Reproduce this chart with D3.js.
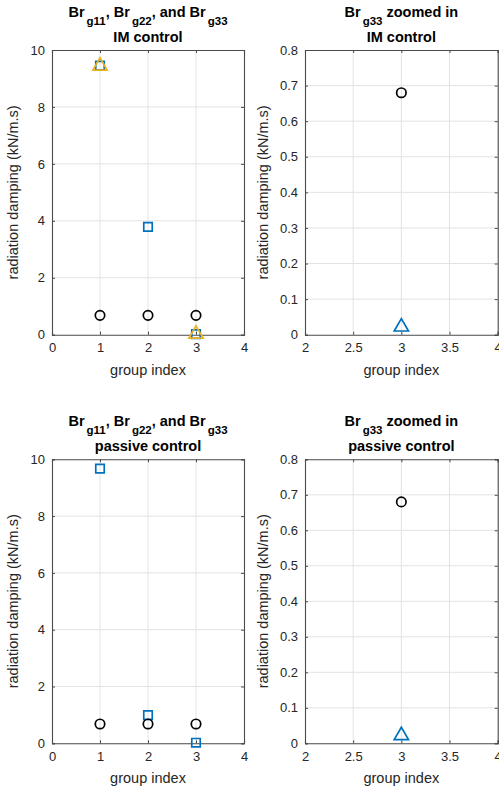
<!DOCTYPE html>
<html>
<head>
<meta charset="utf-8">
<script src="https://cdn.jsdelivr.net/npm/d3@7"></script>
<style>
  html, body { margin: 0; padding: 0; background: #fff; }
  svg { display: block; font-family: "Liberation Sans", Arial, Helvetica, sans-serif; }
</style>
</head>
<body>
<svg id="fig" width="499" height="792"></svg>
<script>
// --- data ---
const groupIdx = [1, 2, 3];

// IM control, all three groups
const imSquares = [9.45, 3.79, 0.02];      // blue squares
const imTriIdx = [1, 3];
const imTriangles = [9.44, 0.022];         // orange triangles
const imCircles = [0.68, 0.68, 0.68];      // black circles

// passive control, all three groups
const pasSquares = [9.67, 0.99, 0.02];
const pasCircles = [0.68, 0.68, 0.68];

// zoomed in on group 3
const zoomIdx = [3];
const imZoomCircle = [0.68];
const imZoomTriangle = [0.022];
const pasZoomCircle = [0.68];
const pasZoomTriangle = [0.022];

const ticksFull = [0, 2, 4, 6, 8, 10];
const ticksZoom = [0, 0.1, 0.2, 0.3, 0.4, 0.5, 0.6, 0.7, 0.8];
const xTicksFull = [0, 1, 2, 3, 4];
const xTicksZoom = [2, 2.5, 3, 3.5, 4];

const BLUE = "#0072BD";
const ORANGE = "#EDB120";
const BLACK = "#000000";
const TXT = "#262626";

const svg = d3.select("#fig");

// title line with TeX-like subscripts: parts = [[text, sub], ...]
function title(g, cx, y1, y2, parts, line2) {
  const SUB = 8;
  const t = g.append("text")
    .attr("x", cx).attr("y", y1)
    .attr("text-anchor", "middle")
    .attr("font-weight", "bold")
    .attr("font-size", 14.5)
    .attr("fill", "#000");
  let down = false;
  parts.forEach(([s, sub]) => {
    t.append("tspan").attr("dy", down ? -SUB : 0).text(s);
    down = false;
    if (sub) {
      t.append("tspan").attr("dy", SUB).attr("dx", 2).attr("font-size", 11.5).text(sub);
      down = true;
    }
  });
  g.append("text")
    .attr("x", cx).attr("y", y2)
    .attr("text-anchor", "middle")
    .attr("font-weight", "bold")
    .attr("font-size", 14.5)
    .attr("fill", "#000")
    .text(line2);
}

function drawPanel(cfg) {
  const { l, r, t, b } = cfg.box;
  const x = d3.scaleLinear().domain(cfg.xDomain).range([l, r]);
  const y = d3.scaleLinear().domain(cfg.yDomain).range([b, t]);
  const g = svg.append("g");

  // grid
  g.selectAll(".gx").data(cfg.xTicks.slice(1, -1)).join("line")
    .attr("x1", (d) => x(d)).attr("x2", (d) => x(d))
    .attr("y1", t).attr("y2", b)
    .attr("stroke", "#e3e3e3").attr("stroke-width", 1);
  g.selectAll(".gy").data(cfg.yTicks.slice(1, -1)).join("line")
    .attr("x1", l).attr("x2", r)
    .attr("y1", (d) => y(d)).attr("y2", (d) => y(d))
    .attr("stroke", "#e3e3e3").attr("stroke-width", 1);

  // axes, ticks pointing inward on all four sides
  const tl = -3;
  g.append("g").attr("transform", `translate(0,${b})`)
    .call(d3.axisBottom(x).tickValues(cfg.xTicks).tickSize(tl).tickPadding(8).tickFormat(d3.format("~g")));
  g.append("g").attr("transform", `translate(0,${t})`)
    .call(d3.axisTop(x).tickValues(cfg.xTicks).tickSize(tl).tickFormat(""));
  g.append("g").attr("transform", `translate(${l},0)`)
    .call(d3.axisLeft(y).tickValues(cfg.yTicks).tickSize(tl).tickPadding(7).tickFormat(d3.format("~g")));
  g.append("g").attr("transform", `translate(${r},0)`)
    .call(d3.axisRight(y).tickValues(cfg.yTicks).tickSize(tl).tickFormat(""));
  g.selectAll(".domain").attr("stroke", "#4a4a4a").attr("stroke-width", 1.1);
  g.selectAll(".tick line").attr("stroke", "#4a4a4a");
  g.selectAll(".tick text").attr("fill", TXT).attr("font-size", 13)
    .attr("font-family", "Liberation Sans, Arial, sans-serif");

  // markers
  cfg.series.forEach((s) => {
    const sym = d3.symbol().type(s.type).size(s.size);
    g.selectAll(null).data(s.xs.map((xv, i) => [xv, s.ys[i]])).join("path")
      .attr("d", sym)
      .attr("transform", (d) => `translate(${x(d[0])},${y(d[1])})`)
      .attr("fill", "none")
      .attr("stroke", s.color)
      .attr("stroke-width", 1.7);
  });

  // labels
  const cx = (l + r) / 2;
  g.append("text")
    .attr("transform", `translate(${cfg.yLabelX},${(t + b) / 2}) rotate(-90)`)
    .attr("text-anchor", "middle")
    .attr("font-size", 14.5).attr("fill", TXT)
    .text("radiation damping (kN/m.s)");
  g.append("text")
    .attr("x", cx).attr("y", b + 40)
    .attr("text-anchor", "middle")
    .attr("font-size", 14.5).attr("fill", TXT)
    .text("group index");

  title(g, cx, t - 33, t - 8, cfg.title, cfg.title2);
}

const fullTitle = [["Br", "g11"], [", Br", "g22"], [", and Br", "g33"]];
const zoomTitle = [["Br", "g33"], [" zoomed in", null]];

const sq = { type: d3.symbolSquare, size: 72 };
const ci = { type: d3.symbolCircle, size: 70 };
const tr = { type: d3.symbolTriangle, size: 88 };

drawPanel({
  box: { l: 52, r: 244, t: 50, b: 334.7 },
  xDomain: [0, 4], yDomain: [0, 10], xTicks: xTicksFull, yTicks: ticksFull,
  yLabelX: 18, title: fullTitle, title2: "IM control",
  series: [
    { ...sq, color: BLUE, xs: groupIdx, ys: imSquares },
    { ...tr, color: ORANGE, xs: imTriIdx, ys: imTriangles },
    { ...ci, color: BLACK, xs: groupIdx, ys: imCircles },
  ],
});

drawPanel({
  box: { l: 305, r: 497.7, t: 50, b: 334.7 },
  xDomain: [2, 4], yDomain: [0, 0.8], xTicks: xTicksZoom, yTicks: ticksZoom,
  yLabelX: 268, title: zoomTitle, title2: "IM control",
  series: [
    { ...tr, color: BLUE, xs: zoomIdx, ys: imZoomTriangle },
    { ...ci, color: BLACK, xs: zoomIdx, ys: imZoomCircle },
  ],
});

drawPanel({
  box: { l: 52, r: 244, t: 459.3, b: 743.3 },
  xDomain: [0, 4], yDomain: [0, 10], xTicks: xTicksFull, yTicks: ticksFull,
  yLabelX: 18, title: fullTitle, title2: "passive control",
  series: [
    { ...sq, color: BLUE, xs: groupIdx, ys: pasSquares },
    { ...ci, color: BLACK, xs: groupIdx, ys: pasCircles },
  ],
});

drawPanel({
  box: { l: 305, r: 497.7, t: 459.3, b: 743.3 },
  xDomain: [2, 4], yDomain: [0, 0.8], xTicks: xTicksZoom, yTicks: ticksZoom,
  yLabelX: 268, title: zoomTitle, title2: "passive control",
  series: [
    { ...tr, color: BLUE, xs: zoomIdx, ys: pasZoomTriangle },
    { ...ci, color: BLACK, xs: zoomIdx, ys: pasZoomCircle },
  ],
});
</script>
</body>
</html>
